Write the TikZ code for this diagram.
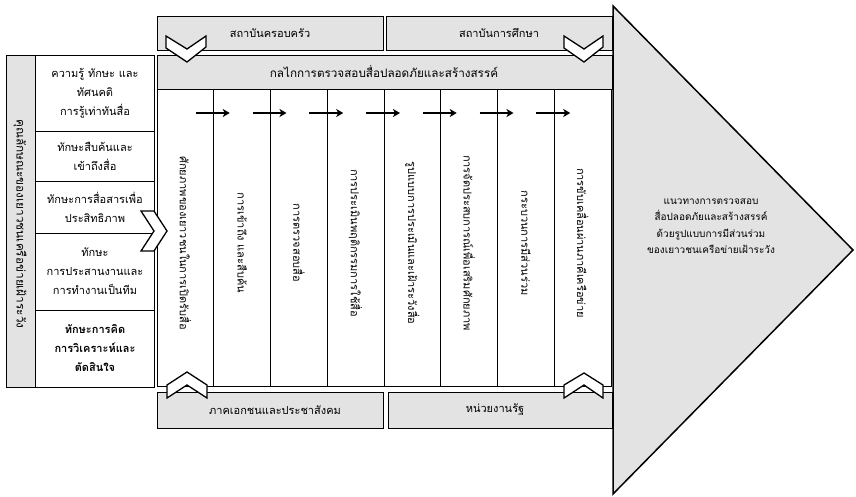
\documentclass[tikz,border=0pt]{standalone}
\usepackage{fontspec}
\usetikzlibrary{arrows.meta}
\setmainfont{Loma}[Script=Thai]
\definecolor{boxgray}{RGB}{227,227,227}
\tikzset{
  graybox/.style={draw,fill=boxgray,line width=0.8pt},
  colbox/.style={draw,fill=white,line width=0.8pt},
  chev/.style={draw,fill=white,line width=1.3pt,line join=miter},
  flow/.style={-{Stealth[length=7pt,width=8pt,inset=2pt]},line width=1.6pt},
  boxtext/.style={font=\fontsize{11}{13}\selectfont},
  vtext/.style={rotate=-90,font=\fontsize{11}{13}\selectfont},
  itemtext/.style={align=center,font=\fontsize{11}{19}\selectfont},
  goaltext/.style={align=center,font=\fontsize{10}{16.5}\selectfont},
}
\begin{document}
\begin{tikzpicture}[x=1pt,y=-1pt]
	\useasboundingbox (0,0) rectangle (856,496);
	% big arrow on the right
	\draw[fill=boxgray,line width=1.5pt,line join=miter] (613,6) -- (853,250) -- (613,494) -- cycle;
	\node[goaltext] (goal) at (711,226) {แนวทางการตรวจสอบ\\สื่อปลอดภัยและสร้างสรรค์\\ด้วยรูปแบบการมีส่วนร่วม\\ของเยาวชนเครือข่ายเฝ้าระวัง};
	% top and bottom institutions
	\draw[graybox] (157,16) rectangle (383,50);
	\draw[graybox] (386,16) rectangle (612,50);
	\node[boxtext] (family) at (270,33) {สถาบันครอบครัว};
	\node[boxtext] (school) at (499,33) {สถาบันการศึกษา};
	\draw[graybox] (157,392) rectangle (383,428);
	\draw[graybox] (388,392) rectangle (612,428);
	\node[boxtext] (private) at (275,410) {ภาคเอกชนและประชาสังคม};
	\node[boxtext] (state) at (495,410) {หน่วยงานรัฐ};
	% mechanism header and columns
	\draw[graybox] (157,55) rectangle (612,89);
	\node[boxtext,font=\fontsize{11.7}{13}\selectfont] (mech) at (384,72) {กลไกการตรวจสอบสื่อปลอดภัยและสร้างสรรค์};
	\foreach \i in {0,...,7}
		\draw[colbox] ({157+56.75*\i},89) rectangle ({157+56.75*(\i+1)},386);
	\foreach \t [count=\i] in {ศักยภาพของเยาวชนในการเปิดรับสื่อ,การเข้าถึง และสืบค้น,การตรวจสอบสื่อ,การประเมินพฤติกรรมการใช้สื่อ,รูปแบบการประเมินและเฝ้าระวังสื่อ,การจัดประสบการณ์เพื่อเสริมศักยภาพ,กระบวนการมีส่วนร่วม,การขับเคลื่อนผ่านภาคีเครือข่าย}
		\node[vtext] (c\i) at ({157+56.75*(\i-0.5)},243) {\t};
	\foreach \i in {1,...,7} {
		\coordinate (s\i) at ({157+56.75*\i-18},113);
		\coordinate (e\i) at ({157+56.75*\i+16},113);
		\draw[flow] (s\i) -- (e\i);
	}
	% youth skills on the left
	\draw[graybox] (6,55) rectangle (35,387);
	\draw[colbox] (35,55) rectangle (154,387);
	\foreach \y in {131,181,233,310}
		\draw[line width=0.8pt] (35,\y) -- (154,\y);
	\node[vtext,font=\fontsize{11.8}{13}\selectfont] (youth) at (20,224) {คุณลักษณะของเยาวชนเครือข่ายเฝ้าระวัง};
	\node[itemtext] (k1) at (95,93) {ความรู้ ทักษะ และ\\ทัศนคติ\\การรู้เท่าทันสื่อ};
	\node[itemtext] (k2) at (95,156) {ทักษะสืบค้นและ\\เข้าถึงสื่อ};
	\node[itemtext] (k3) at (95,207) {ทักษะการสื่อสารเพื่อ\\ประสิทธิภาพ};
	\node[itemtext] (k4) at (95,271) {ทักษะ\\การประสานงานและ\\การทำงานเป็นทีม};
	\node[itemtext,font=\fontsize{11}{19}\selectfont\bfseries] (k5) at (95,348) {ทักษะการคิด\\การวิเคราะห์และ\\ตัดสินใจ};
	% chevrons
	\draw[chev] (166,36) -- (187,49) -- (206,36) -- (206,47) -- (187,62) -- (166,48) -- cycle;
	\draw[chev] (564,36) -- (584,49) -- (603,36) -- (603,47) -- (584,62) -- (564,48) -- cycle;
	\draw[chev] (167,385) -- (187,372) -- (207,385) -- (207,398) -- (187,385) -- (167,398) -- cycle;
	\draw[chev] (564,385) -- (584,373) -- (603,385) -- (603,398) -- (584,385) -- (564,398) -- cycle;
	\draw[chev] (141,211) -- (154,211) -- (167,231) -- (154,251) -- (141,251) -- (154,231) -- cycle;
\end{tikzpicture}
\end{document}
